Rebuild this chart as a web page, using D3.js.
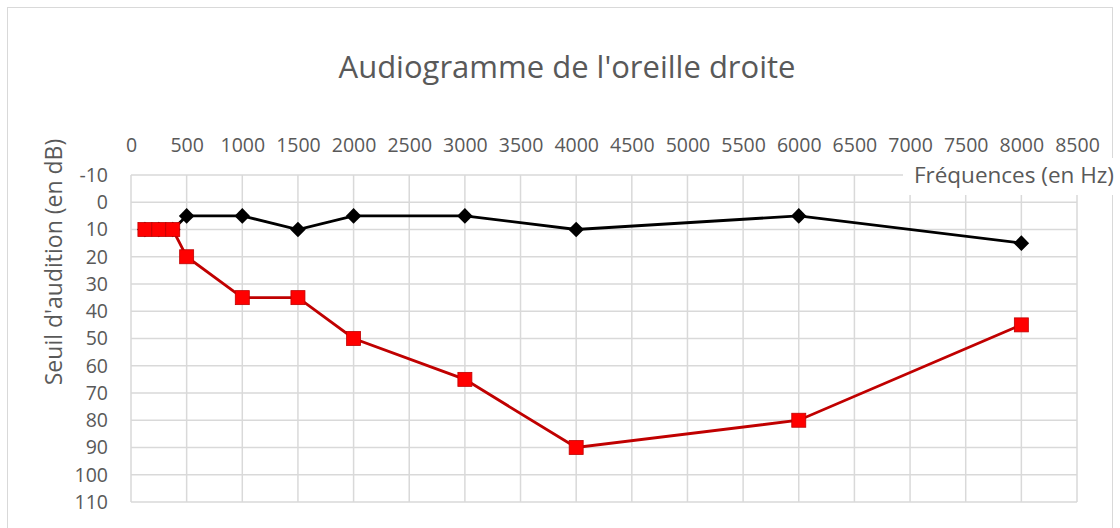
<!DOCTYPE html>
<html><head><meta charset="utf-8">
<script src="https://cdn.jsdelivr.net/npm/d3@7"></script>
<style>body{margin:0;background:#fff;}svg{font-family:"Open Sans","Noto Sans",sans-serif;}</style>
</head><body><svg id="c" width="1120" height="528"></svg>
<script>
const freqs = [125, 250, 375, 500, 1000, 1500, 2000, 3000, 4000, 6000, 8000];
const blackSeries = [10, 10, 10, 5, 5, 10, 5, 5, 10, 5, 15];
const redSeries = [10, 10, 10, 20, 35, 35, 50, 65, 90, 80, 45];
const xTicks = d3.range(0, 8501, 500);
const yTicks = d3.range(-10, 111, 10);

const svg = d3.select("#c");
svg.append("rect").attr("x",7.5).attr("y",7.5).attr("width",1105).attr("height",540)
  .attr("fill","#fff").attr("stroke","#d9d9d9").attr("stroke-width",1);

const x = d3.scaleLinear().domain([0,8500]).range([131,1077]);
const y = d3.scaleLinear().domain([-10,110]).range([175,502]);
const grid = "#d9d9d9", txt = "#595959";
const fmt = d => String(d);

const g = svg.append("g");
g.selectAll("line.hg").data(yTicks).join("line").attr("class","hg")
  .attr("x1",x(0)).attr("x2",x(8500)).attr("y1",d=>y(d)).attr("y2",d=>y(d))
  .attr("stroke",grid).attr("stroke-width",1.5);
g.selectAll("line.vg").data(xTicks).join("line").attr("class","vg")
  .attr("x1",d=>x(d)).attr("x2",d=>x(d)).attr("y1",y(-10)).attr("y2",y(110))
  .attr("stroke",grid).attr("stroke-width",1.5);

const xAxis = svg.append("g").attr("transform",`translate(0,${y(-10)})`)
  .call(d3.axisTop(x).tickValues(xTicks).tickSize(0).tickPadding(23).tickFormat(fmt));
xAxis.select(".domain").remove();
xAxis.selectAll("text").attr("fill",txt).attr("font-size",19.5).attr("font-family","'Open Sans',sans-serif");

const yAxis = svg.append("g").attr("transform",`translate(${x(0)},0)`)
  .call(d3.axisLeft(y).tickValues(yTicks).tickSize(0).tickPadding(23).tickFormat(fmt));
yAxis.select(".domain").remove();
yAxis.selectAll("text").attr("fill",txt).attr("font-size",19.5).attr("font-family","'Open Sans',sans-serif");

svg.append("rect").attr("x",903).attr("y",158).attr("width",215).attr("height",37).attr("fill","#fff");
svg.append("text").attr("x",1114).attr("y",183).attr("text-anchor","end")
  .attr("fill",txt).attr("font-size",22.5).text("Fréquences (en Hz)");

svg.append("text").attr("x",567).attr("y",78).attr("text-anchor","middle")
  .attr("fill",txt).attr("font-size",31).text("Audiogramme de l'oreille droite");

svg.append("text").attr("transform","translate(62,262) rotate(-90)").attr("text-anchor","middle")
  .attr("fill",txt).attr("font-size",23).text("Seuil d'audition (en dB)");

const line = d3.line().x((d,i)=>x(freqs[i])).y(d=>y(d));
svg.append("path").datum(blackSeries).attr("d",line).attr("fill","none").attr("stroke","#000").attr("stroke-width",2.8);
svg.selectAll("rect.bmk").data(blackSeries).join("rect").attr("class","bmk")
  .attr("x",-5.5).attr("y",-5.5).attr("width",11).attr("height",11)
  .attr("transform",(d,i)=>`translate(${x(freqs[i])},${y(d)}) rotate(45)`)
  .attr("fill","#000");

svg.append("path").datum(redSeries).attr("d",line).attr("fill","none").attr("stroke","#c00000").attr("stroke-width",2.8);
svg.selectAll("rect.rm").data(redSeries).join("rect").attr("class","rm")
  .attr("x",-7).attr("y",-7).attr("width",14).attr("height",14)
  .attr("transform",(d,i)=>`translate(${x(freqs[i])},${y(d)})`)
  .attr("fill","#ff0000").attr("stroke","#c00000").attr("stroke-width",0.8);
</script></body></html>
